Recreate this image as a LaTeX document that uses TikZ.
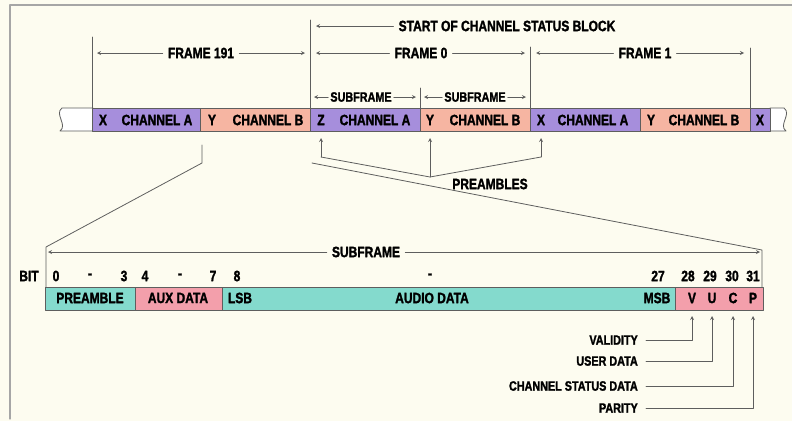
\documentclass[tikz,border=0pt]{standalone}
\usepackage{fontspec}
\setmainfont{Liberation Sans Bold}[FakeStretch=0.8, FakeBold=1.6]
\definecolor{paper}{HTML}{FDFCF0}
\definecolor{chA}{HTML}{A68EDC}
\definecolor{chB}{HTML}{F6B5A2}
\definecolor{aud}{HTML}{84DACD}
\definecolor{aux}{HTML}{F39FAB}
\definecolor{wire}{HTML}{5E5E5E}
\begin{document}
\begin{tikzpicture}[
					x=1pt, y=-1pt,
					line cap=round,
					line join=round,
					>=stealth,
					font=\fontsize{15}{17}\selectfont,
					lbl/.style={inner sep=5pt},
					sml/.style={inner sep=2pt, font=\fontsize{13.5}{15}\selectfont},
					seg/.style={draw=wire, line width=0.8pt}
					]
					% Nền và khung
					\fill[paper] (0,0) rectangle (792,421);
					\useasboundingbox (0,0) rectangle (792,421);
					\draw[gray!70, line width=1.2pt] (10,419) -- (10,5) -- (792,5);
					
					% Hai đầu dải khung
					\draw[seg, fill=white] (93,108) -- (62,108)
					.. controls (54,114) and (68,125) .. (60,131) -- (93,131);
					\draw[seg, fill=white] (770,108) -- (784,108)
					.. controls (792,114) and (778,125) .. (786,131) -- (770,131);
					
					% Các khung con trên dải
					\draw[seg, fill=chA] (92,108) rectangle (200,131);
					\draw[seg, fill=chB] (200,108) rectangle (310,131);
					\draw[seg, fill=chA] (310,108) rectangle (420,131);
					\draw[seg, fill=chB] (420,108) rectangle (530,131);
					\draw[seg, fill=chA] (530,108) rectangle (640,131);
					\draw[seg, fill=chB] (640,108) rectangle (750,131);
					\draw[seg, fill=chA] (750,108) rectangle (770,131);
					
					% Nhãn trên dải
					\node (X1) at (103,120) {X};
					\node (chA1) at (157,120) {CHANNEL A};
					\node (Y1) at (212,120) {Y};
					\node (chB1) at (268,120) {CHANNEL B};
					\node (Z0) at (321,120) {Z};
					\node (chA2) at (375,120) {CHANNEL A};
					\node (Y2) at (430,120) {Y};
					\node (chB2) at (485,120) {CHANNEL B};
					\node (X3) at (541,120) {X};
					\node (chA3) at (593,120) {CHANNEL A};
					\node (Y3) at (651,120) {Y};
					\node (chB3) at (704,120) {CHANNEL B};
					\node (X4) at (760,120) {X};
					
					% Vạch ranh giới khung
					\draw[seg] (92,37) -- (92,108);
					\draw[seg] (310,20) -- (310,108);
					\draw[seg] (420,88) -- (420,108);
					\draw[seg] (530,47) -- (530,108);
					\draw[seg] (750,48) -- (750,108);
					
					% Chú thích khung
					\node[lbl] (start) at (507,26) {START OF CHANNEL STATUS BLOCK};
					\draw[seg, ->] (start.west) -- (316,26);
					
					\node[lbl] (f191) at (201,53) {FRAME 191};
					\draw[seg, ->] (f191.west) -- (97,53);
					\draw[seg, ->] (f191.east) -- (305,53);
					
					\node[lbl] (f0) at (421,53) {FRAME 0};
					\draw[seg, ->] (f0.west) -- (316,53);
					\draw[seg, ->] (f0.east) -- (525,53);
					
					\node[lbl] (f1) at (645,53) {FRAME 1};
					\draw[seg, ->] (f1.west) -- (536,53);
					\draw[seg, ->] (f1.east) -- (744,53);
					
					\node[sml] (sA) at (361,97) {SUBFRAME};
					\draw[seg, ->] (sA.west) -- (314,97);
					\draw[seg, ->] (sA.east) -- (416,97);
					
					\node[sml] (sB) at (475,97) {SUBFRAME};
					\draw[seg, ->] (sB.west) -- (424,97);
					\draw[seg, ->] (sB.east) -- (526,97);
					
					% Mũi tên chỉ phần mở đầu
					\coordinate (tZ) at (321,138);
					\coordinate (tY) at (430,138);
					\coordinate (tX) at (541,138);
					\coordinate (pl) at (321,157);
					\coordinate (pm) at (430,177);
					\coordinate (pr) at (541,157);
					\draw[seg] (pl) -- (pm) -- (pr);
					\draw[seg, ->] (pl) -- (tZ);
					\draw[seg, ->] (pm) -- (tY);
					\draw[seg, ->] (pr) -- (tX);
					\node[lbl] (pre) at (490,184) {PREAMBLES};
					
					% Đường phóng to một khung con
					\draw[seg] (202,145) -- (202,163) -- (46,247) -- (46,287);
					\draw[seg] (312,163) -- (762,250) -- (762,287);
					
					\node[lbl] (sub) at (366,252) {SUBFRAME};
					\draw[seg, ->] (sub.west) -- (48,252);
					\draw[seg, ->] (sub.east) -- (760,252);
					
					% Số thứ tự bit
					\node (bit) at (29,276) {BIT};
					\node (b0) at (56,276) {0};
					\node at (90,276) {-};
					\node (b3) at (124,276) {3};
					\node (b4) at (145,276) {4};
					\node at (180,276) {-};
					\node (b7) at (213,276) {7};
					\node (b8) at (237,276) {8};
					\node at (430,276) {-};
					\node (b27) at (658,276) {27};
					\node (b28) at (688,276) {28};
					\node (b29) at (710,276) {29};
					\node (b30) at (732,276) {30};
					\node (b31) at (753,276) {31};
					
					% Dải khung con
					\draw[seg, fill=aud] (45,287) rectangle (135,310);
					\draw[seg, fill=aux] (135,287) rectangle (222,310);
					\draw[seg, fill=aud] (222,287) rectangle (675,310);
					\draw[seg, fill=aux] (675,287) rectangle (763,310);
					
					\node (preamb) at (90,298) {PREAMBLE};
					\node (auxd) at (178,298) {AUX DATA};
					\node (lsb) at (240,298) {LSB};
					\node (audio) at (432,298) {AUDIO DATA};
					\node (msb) at (657,298) {MSB};
					\node (V) at (692,298) {V};
					\node (U) at (712,298) {U};
					\node (C) at (733,298) {C};
					\node (P) at (753,298) {P};
					
					% Chú thích các bit cuối
					\coordinate (tV) at (692,316);
					\coordinate (tU) at (712,316);
					\coordinate (tC) at (733,316);
					\coordinate (tP) at (753,316);
					
					\node[sml, anchor=east] (val) at (640,340) {VALIDITY};
					\node[sml, anchor=east] (usr) at (640,361) {USER DATA};
					\node[sml, anchor=east] (csd) at (640,386) {CHANNEL STATUS DATA};
					\node[sml, anchor=east] (par) at (640,408) {PARITY};
					
					\draw[seg, ->] ([xshift=6pt]val.east) -| (tV);
					\draw[seg, ->] ([xshift=6pt]usr.east) -| (tU);
					\draw[seg, ->] ([xshift=6pt]csd.east) -| (tC);
					\draw[seg, ->] ([xshift=6pt]par.east) -| (tP);
					
				\end{tikzpicture}
\end{document}
